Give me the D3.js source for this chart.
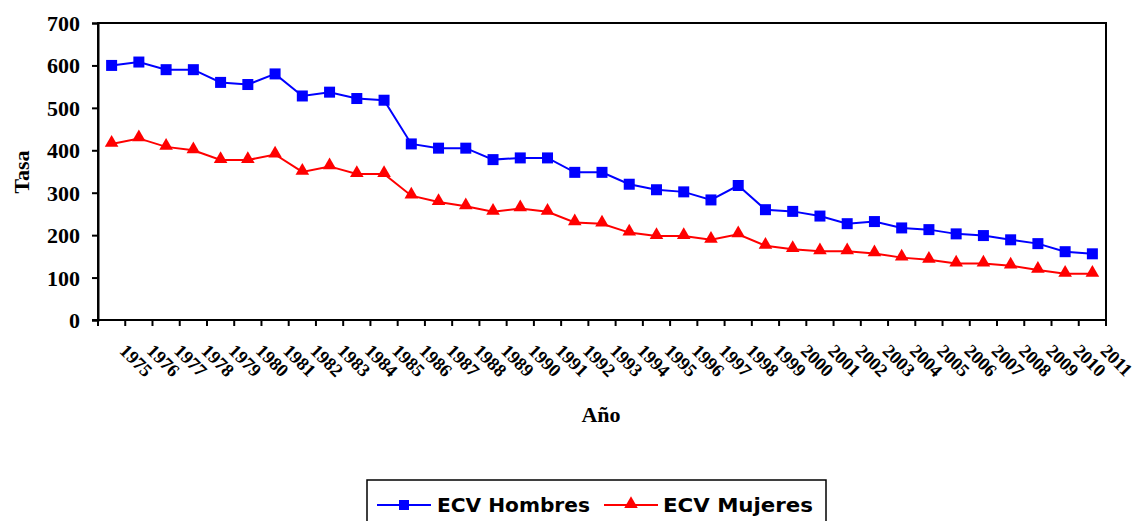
<!DOCTYPE html>
<html><head><meta charset="utf-8">
<script src="https://cdn.jsdelivr.net/npm/d3@7"></script>
<style>body{margin:0;background:#fff}svg{display:block}</style>
</head><body>
<svg id="c" width="1139" height="521"></svg>
<script>
const years = d3.range(1975, 2012).map(String);
const hombres = [600,608,590,590,560,555,580,528,537,522,518,415,405,405,378,382,382,348,348,320,307,302,283,317,260,256,245,227,232,217,213,203,199,189,180,161,156];
const mujeres = [415,428,408,400,377,377,390,349,362,344,344,293,278,268,255,263,255,230,227,206,198,198,189,202,175,167,162,162,157,147,142,133,133,128,118,109,109];
const yTicks = [0,100,200,300,400,500,600,700];
const seriesNames = ["ECV Hombres","ECV Mujeres"];
const colors = ["#0000FF","#FF0000"];

const svg = d3.select("#c");
const L = 98, R = 1106, T = 23, B = 320;
const x = d3.scaleBand().domain(years).range([L, R]);
const y = d3.scaleLinear().domain([0,700]).range([B, T]);
const serif = "'Liberation Serif', 'Times New Roman', serif";

svg.append("rect").attr("x", L).attr("y", T).attr("width", R-L).attr("height", B-T)
  .attr("fill","none").attr("stroke","#000").attr("stroke-width",2);

const ya = svg.append("g").attr("transform",`translate(${L},0)`)
  .call(d3.axisLeft(y).tickValues(yTicks).tickSize(6).tickPadding(12));
ya.attr("font-family", null).attr("font-size", null);
ya.select(".domain").attr("stroke","#000").attr("stroke-width",2);
ya.selectAll(".tick line").attr("stroke","#000").attr("stroke-width",2);
ya.selectAll("text")
  .style("font-family",serif).style("font-weight","bold").style("font-size","22px")
  .attr("fill","#000").attr("dy","0.34em");

const bounds = years.map(d => x(d)).concat([R]);
svg.append("g").selectAll("line").data(bounds).join("line")
  .attr("x1", d=>d).attr("x2", d=>d).attr("y1", B).attr("y2", B+6)
  .attr("stroke","#000").attr("stroke-width",2);
svg.append("line").attr("x1",L-6).attr("x2",R).attr("y1",B).attr("y2",B).attr("stroke","#000").attr("stroke-width",2);

svg.append("g").selectAll("text").data(years).join("text")
  .attr("transform", d => `translate(${x(d)+x.bandwidth()/2+7},${B+32}) rotate(45)`)
  .style("font-family",serif).style("font-weight","bold").style("font-size","18.5px")
  .attr("text-anchor","start").text(d=>d);

svg.append("text").attr("transform","translate(29,172) rotate(-90)")
  .attr("text-anchor","middle").style("font-family",serif).style("font-weight","bold").style("font-size","22px").text("Tasa");
svg.append("text").attr("x",601).attr("y",422)
  .attr("text-anchor","middle").style("font-family",serif).style("font-weight","bold").style("font-size","22px").text("Año");

const cx = d => x(d) + x.bandwidth()/2;
const line = d3.line().x((d,i)=>cx(years[i])).y(d=>y(d));
const tri = d3.symbol().type(d3.symbolTriangle).size(80);

[hombres, mujeres].forEach((vals, s) => {
  svg.append("path").datum(vals).attr("d", line).attr("fill","none")
    .attr("stroke", colors[s]).attr("stroke-width",2);
  const g = svg.append("g");
  if (s === 0) {
    g.selectAll("rect").data(vals).join("rect")
      .attr("x",(d,i)=>cx(years[i])-5.5).attr("y",d=>y(d)-5.5)
      .attr("width",11).attr("height",11).attr("fill",colors[s]);
  } else {
    g.selectAll("path").data(vals).join("path")
      .attr("d", tri).attr("transform",(d,i)=>`translate(${cx(years[i])},${y(d)-1})`)
      .attr("fill",colors[s]);
  }
});

svg.append("rect").attr("x",367).attr("y",480).attr("width",459).attr("height",60)
  .attr("fill","#fff").attr("stroke","#000").attr("stroke-width",1.5);
const leg = [{x0:377, tx:437, tw:153},{x0:604, tx:663, tw:150}];
leg.forEach((l, s) => {
  svg.append("line").attr("x1",l.x0).attr("x2",l.x0+54).attr("y1",505).attr("y2",505)
    .attr("stroke",colors[s]).attr("stroke-width",2);
  if (s===0) svg.append("rect").attr("x",l.x0+22).attr("y",500).attr("width",10).attr("height",10).attr("fill",colors[s]);
  else svg.append("path").attr("d",tri).attr("transform",`translate(${l.x0+27},504)`).attr("fill",colors[s]);
  svg.append("text").attr("x",l.tx).attr("y",512).style("font-family","'DejaVu Sans', sans-serif")
    .style("font-weight","bold").style("font-size","20px").attr("textLength",l.tw).attr("lengthAdjust","spacingAndGlyphs")
    .text(seriesNames[s]);
});
</script>
</body></html>
